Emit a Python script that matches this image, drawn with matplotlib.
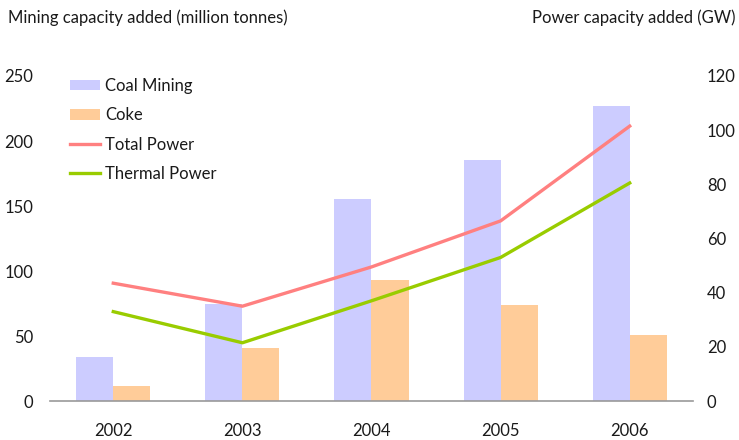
import numpy as np
import matplotlib
matplotlib.use("Agg")
import matplotlib.pyplot as plt

plt.rcParams["font.family"] = ["Lato", "DejaVu Sans"]

# Capacity additions by year
years = ["2002", "2003", "2004", "2005", "2006"]
coal_mining = [34, 75, 155, 185, 227]      # million tonnes
coke = [11.5, 41, 93, 74, 51]              # million tonnes
total_power = [43.5, 35, 49.5, 66.5, 101.5]  # GW
thermal_power = [33, 21.5, 37, 53, 80.5]     # GW

coal_color = "#CCCCFF"
coke_color = "#FFCC99"
total_color = "#FF8080"
thermal_color = "#99CC00"
text_color = "#1a1a1a"
fs = 12

fig = plt.figure(figsize=(7.39, 4.40), dpi=100)
ax = fig.add_axes([50 / 739, 1 - 401 / 440, 643 / 739, 325 / 440])
ax2 = ax.twinx()

x = np.arange(len(years))
w = 0.287
b1 = ax.bar(x - w / 2, coal_mining, w, color=coal_color, label="Coal Mining")
b2 = ax.bar(x + w / 2, coke, w, color=coke_color, label="Coke")
l1, = ax2.plot(x, total_power, color=total_color, lw=2.4, label="Total Power")
l2, = ax2.plot(x, thermal_power, color=thermal_color, lw=2.4, label="Thermal Power")

ax.set_xlim(-0.49, 4.49)
ax.set_ylim(0, 250)
ax2.set_ylim(0, 120)
ax.set_yticks(np.arange(0, 251, 50))
ax2.set_yticks(np.arange(0, 121, 20))
ax.set_xticks(x)
ax.set_xticklabels(years)

for a in (ax, ax2):
    for s in a.spines.values():
        s.set_visible(False)
    a.tick_params(length=0, labelsize=fs, colors=text_color)
ax.spines["bottom"].set_visible(True)
ax.spines["bottom"].set_color("#999999")
ax.spines["bottom"].set_linewidth(1.2)
ax.tick_params(axis="y", pad=12)
ax.tick_params(axis="x", pad=16)
ax2.tick_params(axis="y", pad=10)

fig.text(8 / 739, 1 - 18 / 440, "Mining capacity added (million tonnes)",
         fontsize=fs, color=text_color, va="center", ha="left")
fig.text(735 / 739, 1 - 18 / 440, "Power capacity added (GW)",
         fontsize=fs, color=text_color, va="center", ha="right")

fig.legend([b1, b2, l1, l2], ["Coal Mining", "Coke", "Total Power", "Thermal Power"],
           loc="upper left", bbox_to_anchor=(70 / 739, 1 - 78 / 440), frameon=False,
           fontsize=fs, handlelength=1.8, handleheight=0.6, labelspacing=0.8,
           handletextpad=0.3, borderpad=0, borderaxespad=0, labelcolor=text_color)

fig.savefig("out.png", dpi=100)
